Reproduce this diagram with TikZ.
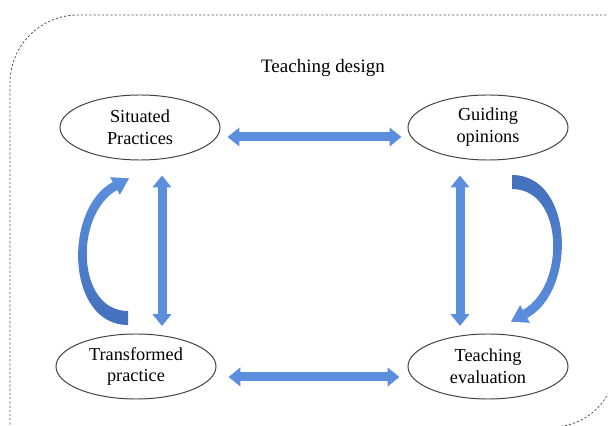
\documentclass[tikz,border=0pt]{standalone}
\usepackage{fontspec}
\setmainfont{Liberation Serif}
\usetikzlibrary{arrows.meta,shapes.geometric,calc}

\definecolor{arrowblue}{HTML}{5B8FDE}
\definecolor{arrowdark}{HTML}{4470BC}
\definecolor{framegray}{HTML}{5A5A5A}

% bent block arrow, tail low and head up-right; #1 = transform, #2/#3 = shade colours
\newcommand{\bentarrow}[3]{%
  \shade[#1, top color=#2, bottom color=#3]
    (128,325) .. controls (66,325) and (62.8,208.7) .. (112.8,182)
    -- (110.2,177.2) -- (129.1,178.3) -- (119.8,194.8) -- (117.2,190)
    .. controls (74,214) and (76,311) .. (128,311) -- cycle;
}

\begin{document}
\begin{tikzpicture}[x=0.025cm, y=-0.025cm,
    phase/.style={draw=black!75, ellipse, line width=0.7pt, minimum width=4cm,
      minimum height=1.625cm, inner sep=0pt, align=center,
      font=\fontsize{13}{15.5}\selectfont},
    blockarrow/.style={draw=arrowblue, line width=6.4pt,
      {Triangle[length=8.5pt,width=13pt]}-{Triangle[length=8.5pt,width=13pt]}},
    frame/.style={framegray, dash pattern=on 1.6pt off 1.4pt, line width=0.6pt}]
		\useasboundingbox (0,0) rectangle (608,426);
		\clip (0,0) rectangle (608,426);

		% dashed frame, only two of its corners fall inside
		\draw[frame, rounded corners=1.7cm] (10,450) -- (10,15) -- (700,15);
		\draw[frame, rounded corners=1.6cm] (616,-20) -- (616,427) -- (300,427);

		\node[font=\fontsize{13.5}{16}\selectfont] (title) at (323,68) {Teaching design};

		\node[phase] (sit) at (140,127.5) {Situated\\Practices};
		\node[phase] (guide) at (488,127.5) {Guiding\\opinions};
		\node[phase] (trans) at (136,366.5) {Transformed\\practice};
		\node[phase] (eval) at (488,366.5) {Teaching\\evaluation};

		\draw[blockarrow] ($(sit.east)+(7,9.5)$) -- ($(guide.west)+(-6,9.5)$);
		\draw[blockarrow] ($(trans.east)+(12,10.5)$) -- ($(eval.west)+(-8,10.5)$);
		\draw[blockarrow] ($(sit.south)+(22,15)$) -- ($(trans.north)+(26,-7.5)$);
		\draw[blockarrow] ($(guide.south)+(-28,15)$) -- ($(eval.north)+(-28,-7.5)$);

		% the two bent arrows of the cycle
		\bentarrow{}{arrowblue}{arrowdark}
		\bentarrow{rotate around={180:(320,250)}}{arrowdark}{arrowblue}
	\end{tikzpicture}
\end{document}
